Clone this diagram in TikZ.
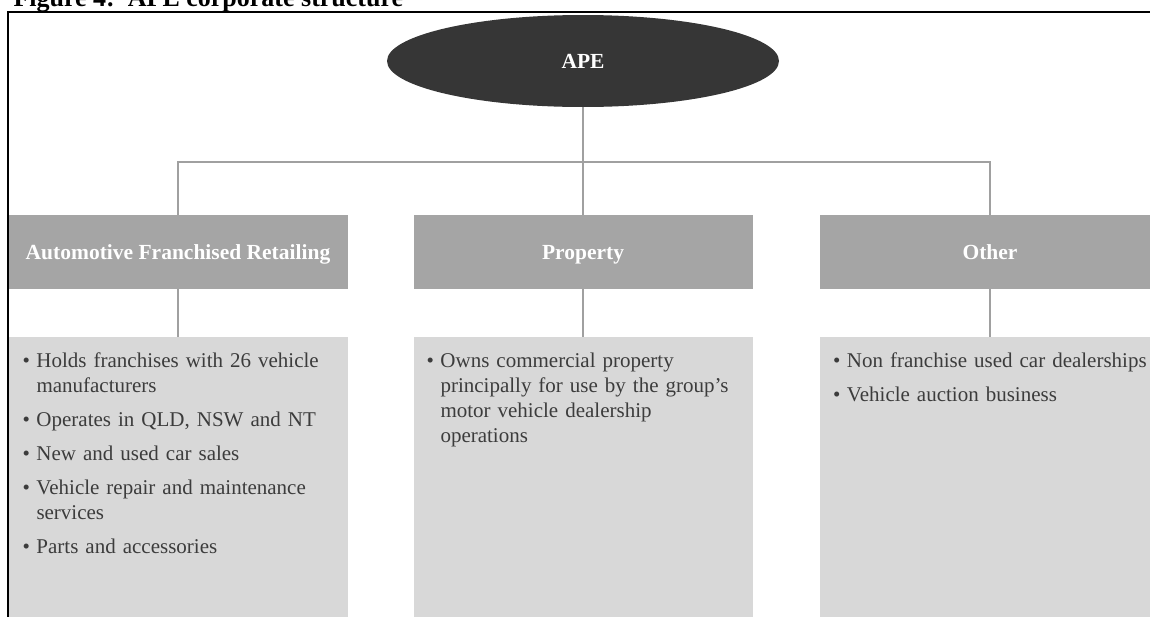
\documentclass[tikz,border=0pt]{standalone}
\usepackage{fontspec}
\setmainfont{Liberation Serif}
\usetikzlibrary{shapes, positioning, calc}

\definecolor{apedark}{HTML}{363636}
\definecolor{headgray}{HTML}{A5A5A5}
\definecolor{bodygray}{HTML}{D8D8D8}
\definecolor{textgray}{HTML}{3C3C3C}
\definecolor{linegray}{HTML}{A0A0A0}

\newcommand{\boxfont}{\fontsize{21}{25}\selectfont\hyphenpenalty=10000\relax}
\newcommand{\itm}{\makebox[14pt][l]{\textbullet}}
\newcommand{\cnt}{\hspace*{14pt}}

\tikzstyle{apenode} = [ellipse, fill=apedark, text=white, font=\fontsize{21.5}{25}\selectfont\bfseries, text height=14pt, text depth=0pt, minimum width=392pt, minimum height=92pt, inner sep=0pt]
\tikzstyle{headbox} = [rectangle, fill=headgray, text=white, font=\fontsize{21.5}{25}\selectfont\bfseries, text height=14pt, text depth=0pt, minimum width=339pt, minimum height=74pt, inner sep=0pt]
\tikzstyle{bodybox} = [rectangle, fill=bodygray, minimum width=339pt, minimum height=303pt, inner sep=0pt]
\tikzstyle{bodytext} = [anchor=base west, text=textgray, font=\boxfont, text width=360pt, align=left, inner sep=0pt]
\tikzstyle{conn} = [draw=linegray, line width=1.2pt]

\begin{document}
\begin{tikzpicture}[x=1pt, y=-1pt]
        \useasboundingbox (0,0) rectangle (1150,616);
        \node [anchor=base west, font=\fontsize{26}{30}\selectfont\bfseries] (title) at (10,6.5) {Figure 4:\hspace{0.5em}APE corporate structure};

        \node [apenode] (ape) at (583,61) {APE};
        \node [headbox] (afr) at (178,252) {Automotive Franchised Retailing};
        \node [headbox] (prop) at (583,252) {Property};
        \node [headbox, minimum width=340pt] (other) at (990,252) {Other};

        \node [bodybox, anchor=north] (afrbody) at (178,337) {};
        \node [bodybox, anchor=north] (propbody) at (583,337) {};
        \node [bodybox, anchor=north, minimum width=340pt] (otherbody) at (990,337) {};

        % bullet lists, first baseline 30pt under the box top
        \node [bodytext] (afrtext) at ([shift={(14,30)}]afrbody.north west) {\itm Holds franchises with 26 vehicle\\ \cnt manufacturers\\[9pt] \itm Operates in QLD, NSW and NT\\[9pt] \itm New and used car sales\\[9pt] \itm Vehicle repair and maintenance\\ \cnt services\\[9pt] \itm Parts and accessories};
        \node [bodytext] (proptext) at ([shift={(13,30)}]propbody.north west) {\itm Owns commercial property\\ \cnt principally for use by the group’s\\ \cnt motor vehicle dealership\\ \cnt operations};
        \node [bodytext] (othertext) at ([shift={(13,30)}]otherbody.north west) {\itm Non franchise used car dealerships\\[9pt] \itm Vehicle auction business};

        \coordinate (bus) at (583,162);
        \path [conn] (ape) -- (bus);
        \path [conn] (afr.north) |- (bus) -| (other.north);
        \path [conn] (bus) -- (prop.north);
        \path [conn] (afr) -- (afrbody);
        \path [conn] (prop) -- (propbody);
        \path [conn] (other) -- (otherbody);

        \draw [line width=1.6pt] (8,12) rectangle (1170,640);
    \end{tikzpicture}
\end{document}
